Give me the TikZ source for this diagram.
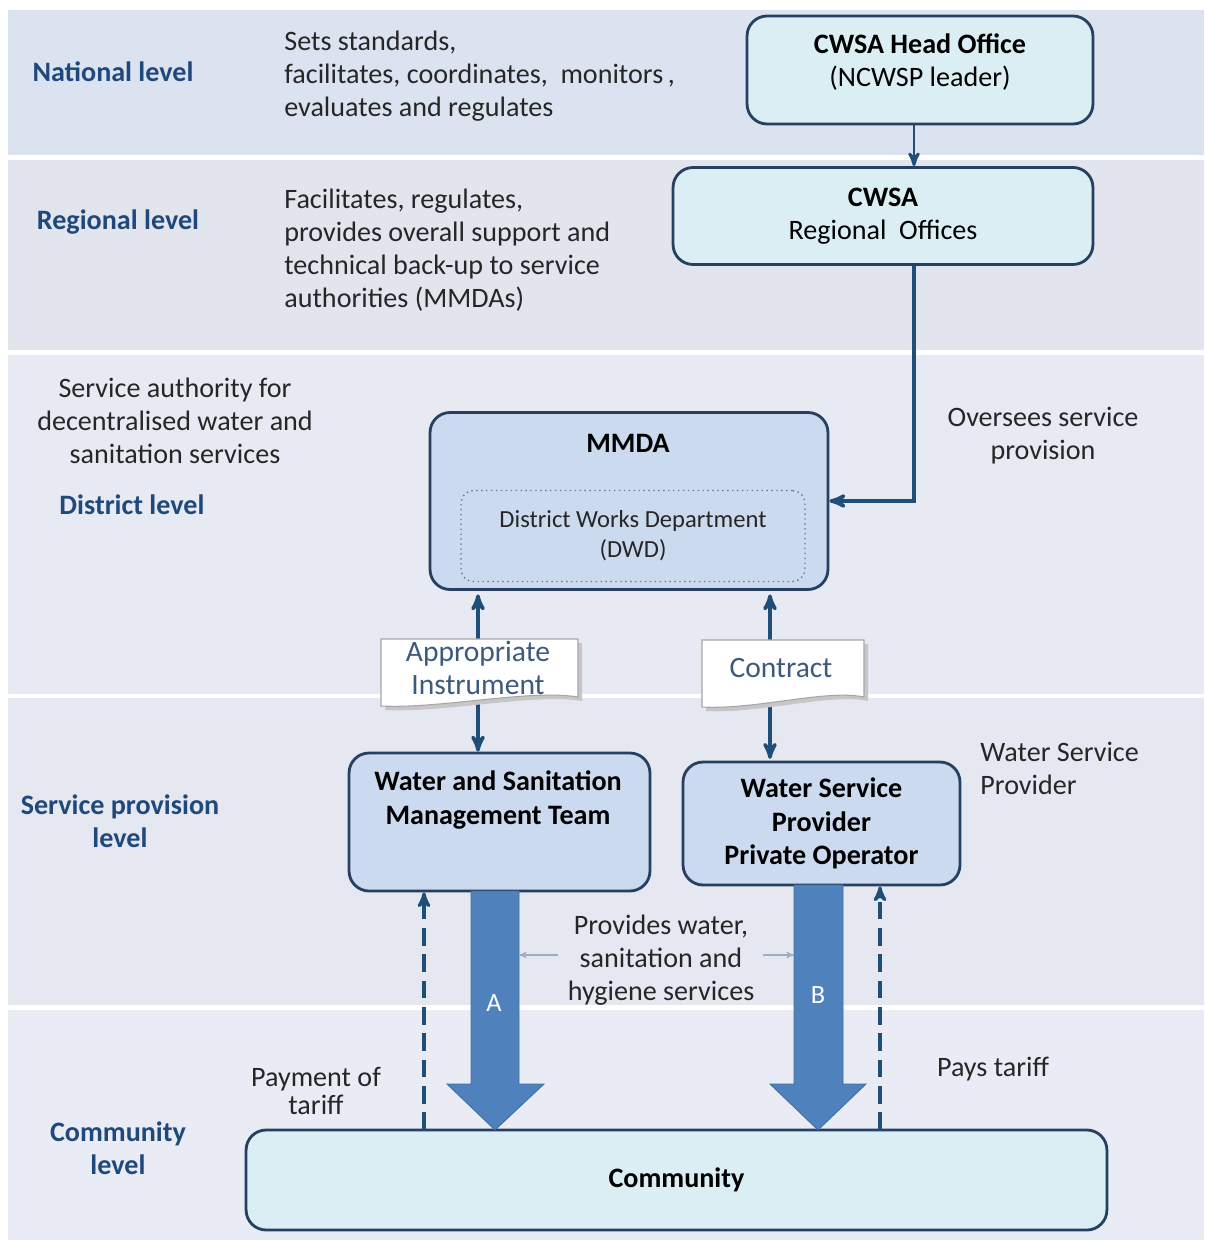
\documentclass[tikz,border=0pt]{standalone}
\usepackage{fontspec}
\setmainfont{Carlito}
\usetikzlibrary{arrows,positioning,calc}
\definecolor{bandnat}{HTML}{DCE3F0}
\definecolor{bandreg}{HTML}{E3E5EE}
\definecolor{banddis}{HTML}{E7EAF3}
\definecolor{bandsrv}{HTML}{E5E8F0}
\definecolor{bandcom}{HTML}{E9ECF4}
\definecolor{boxline}{HTML}{254061}
\definecolor{linkblue}{HTML}{1F4E79}
\definecolor{cyanfill}{HTML}{DAEEF3}
\definecolor{bluefill}{HTML}{CBDAEE}
\definecolor{lvlblue}{HTML}{1F497D}
\definecolor{doctext}{HTML}{3B5A7E}
\definecolor{bigarrow}{HTML}{4F81BD}
\definecolor{txtgray}{HTML}{262626}

\tikzset{
  cyanbox/.style={draw=boxline, line width=1.6pt, rounded corners=0.4cm, fill=cyanfill, align=center, text=black, font=\fontsize{16}{19}\selectfont},
  bluebox/.style={cyanbox, fill=bluefill},
  boxtxt/.style={align=center, inner sep=0pt, text=black, font=\fontsize{16}{19}\selectfont},
  dwdbox/.style={draw=boxline!70, dotted, line width=0.8pt, rounded corners=0.25cm, fill=bluefill, align=center, text=txtgray, font=\fontsize{14}{17}\selectfont},
  lvl/.style={text=lvlblue, align=center, inner sep=0pt, font=\bfseries\fontsize{16}{19}\selectfont},
  desc/.style={text=txtgray, inner sep=0pt, font=\fontsize{16}{18.8}\selectfont},
  doclbl/.style={text=doctext, align=center, inner sep=0pt, font=\fontsize{16.8}{18.8}\selectfont},
  docshape/.style={draw=gray!70, fill=white, line width=0.6pt},
  link/.style={draw=linkblue, line width=2pt},
  paylink/.style={draw=linkblue, line width=1.8pt, dash pattern=on 10pt off 5pt},
  thinlink/.style={draw=lvlblue!45, line width=0.6pt},
  blockarrow/.style={fill=bigarrow, draw=bigarrow!85!black, line width=0.5pt}
}

\begin{document}
\begin{tikzpicture}[x=0.02cm, y=-0.02cm, >=stealth']
	\useasboundingbox (0,0) rectangle (1204,1243);
	% level bands
	\fill[white] (0,0) rectangle (1204,1243);
	\fill[bandnat] (8,10) rectangle (1204,155);
	\fill[bandreg] (8,160) rectangle (1204,350);
	\fill[banddis] (8,355) rectangle (1204,694);
	\fill[bandsrv] (8,698) rectangle (1204,1005);
	\fill[bandcom] (8,1010) rectangle (1204,1240);

	% level names
	\node[lvl] (natlvl) at (113,72) {National level};
	\node[lvl] (reglvl) at (118,222) {Regional level};
	\node[lvl] (dislvl) at (132,505) {District level};
	\node[lvl] (srvlvl) at (120,821) {Service provision\\level};
	\node[lvl] (comlvl) at (118,1148) {Community\\level};

	% roles
	\node[desc, anchor=west, align=left] (natrole) at (284,76) {Sets standards,\\facilitates, coordinates,\ \ monitors\,,\\evaluates and regulates};
	\node[desc, anchor=west, align=left] (regrole) at (284,250) {Facilitates, regulates,\\provides overall support and\\technical back-up to service\\authorities (MMDAs)};
	\node[desc, align=center] (disrole) at (175,421) {Service authority for\\decentralised water and\\sanitation services};
	\node[desc, align=center] (oversee) at (1043,436) {Oversees service\\provision};
	\node[desc, anchor=west, align=left] (wsprole) at (980,768) {Water Service\\Provider};
	\node[desc, align=center, font=\fontsize{16}{15.5}\selectfont] (payof) at (316,1091) {Payment of\\tariff};
	\node[desc] (pays) at (993,1069) {Pays tariff};
	\node[desc, align=center] (provides) at (661,960) {Provides water,\\sanitation and\\hygiene services};

	% organisations
	\node[cyanbox, minimum width=6.92cm, minimum height=2.16cm] (hq) at (920,70) {};
	\node[boxtxt] (hqlbl) at (920,62) {\textbf{CWSA Head Office}\\(NCWSP leader)};
	\node[cyanbox, minimum width=8.4cm, minimum height=1.94cm] (reg) at (883,216) {\textbf{CWSA}\\Regional\ \ Offices};
	\node[bluebox, minimum width=7.96cm, minimum height=3.54cm] (mmda) at (629,501) {};
	\node[boxtxt, font=\bfseries\fontsize{16}{19}\selectfont] (mmdalbl) at (628,443) {MMDA};
	\node[dwdbox, minimum width=6.88cm, minimum height=1.82cm] (dwd) at (633,536) {District Works Department\\(DWD)};
	\node[bluebox, minimum width=6.02cm, minimum height=2.76cm] (wsmt) at (499.5,822) {};
	\node[boxtxt, font=\bfseries\fontsize{16}{19}\selectfont] (wsmtlbl) at (498,800) {Water and Sanitation\\Management Team};
	\node[bluebox, minimum width=5.54cm, minimum height=2.46cm, font=\bfseries\fontsize{16}{19}\selectfont] (wsp) at (821.5,823.5) {Water Service\\Provider\\Private Operator};
	\node[cyanbox, minimum width=17.22cm, minimum height=2cm, font=\bfseries\fontsize{16}{19}\selectfont] (comm) at (676.5,1180) {Community};

	% oversight
	\coordinate (bend) at (914,501);
	\draw[link, line width=1.6pt, ->] (hq.south -| bend) -- (reg.north -| bend);
	\draw[link, ->] (reg.south -| bend) -- (bend) -- (mmda.east);

	% agreements
	\coordinate (ai) at (478,669);
	\coordinate (ct) at (770,669);
	\draw[link, <->, shorten <=2pt] (mmda.south -| ai) -- (wsmt.north -| ai);
	\draw[link, <->, shorten <=2pt, shorten >=1pt] (mmda.south -| ct) -- (wsp.north -| ct);
	\fill[gray!45] (385,643) -- (582,643) -- (582,701) .. controls (535,693) and (445,713) .. (385,710) -- cycle;
	\draw[docshape] (381,639) -- (578,639) -- (578,697) .. controls (530,689) and (440,709) .. (381,706) -- cycle;
	\fill[gray!45] (706,644) -- (868,644) -- (868,701) .. controls (830,693) and (760,714) .. (706,711) -- cycle;
	\draw[docshape] (702,640) -- (864,640) -- (864,697) .. controls (826,689) and (756,710) .. (702,707) -- cycle;
	\node[doclbl] (instr) at (478,668) {Appropriate\\Instrument};
	\node[doclbl] (contract) at (781,668) {Contract};

	% service delivery
	\draw[blockarrow] (471,891) -- (471,1084) -- (447,1084) -- (495,1130) -- (544,1084) -- (519,1084) -- (519,891) -- cycle;
	\draw[blockarrow] (794,885) -- (794,1084) -- (770,1084) -- (818,1130) -- (866,1084) -- (843,1084) -- (843,885) -- cycle;
	\node[text=white, font=\fontsize{15}{17}\selectfont] (alabel) at (494,1003) {A};
	\node[text=white, font=\fontsize{15}{17}\selectfont] (blabel) at (818,995) {B};
	\coordinate (pl) at (558,955);
	\coordinate (pr) at (763,955);
	\draw[thinlink, ->] (pl) -- (519,955);
	\draw[thinlink, ->] (pr) -- (794,955);

	% payments
	\coordinate (pa) at (424,1130);
	\coordinate (pb) at (880,1130);
	\draw[paylink, ->] (pa) -- (wsmt.south -| pa);
	\draw[paylink, ->] (pb) -- (wsp.south -| pb);
\end{tikzpicture}
\end{document}
